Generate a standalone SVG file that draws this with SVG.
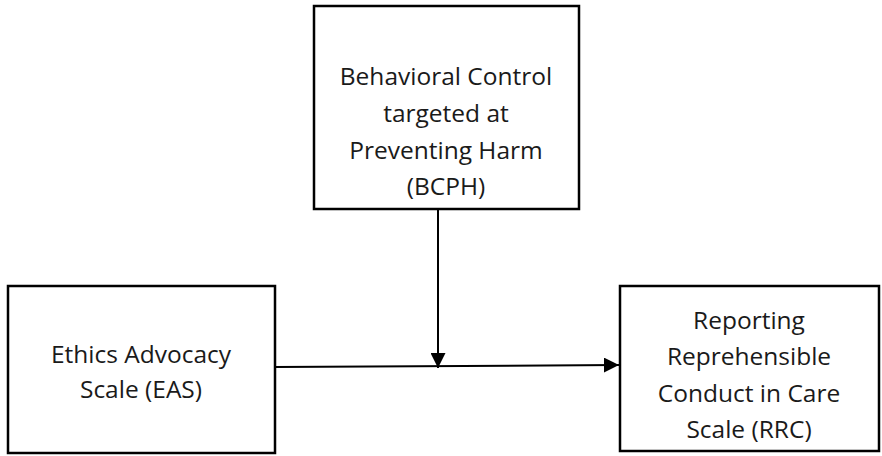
<svg xmlns="http://www.w3.org/2000/svg" width="882" height="456" viewBox="0 0 882 456">
<style>
.box{fill:#fff;stroke:#000;stroke-width:2.5}
.t{font-family:"Open Sans","Noto Sans",sans-serif;font-size:24.5px;fill:#1a1a1a;text-anchor:middle}
.c{stroke:#000;stroke-width:2;fill:none}
</style>
<defs>
<marker id="ah" viewBox="0 0 10 10" refX="10" refY="5" markerWidth="15" markerHeight="15" markerUnits="userSpaceOnUse" orient="auto">
<path d="M0,0 L10,5 L0,10 z" fill="#000"/>
</marker>
</defs>
<g id="bcph">
<rect class="box" x="314" y="6" width="265" height="203"/>
<text class="t" x="446" y="85">Behavioral Control</text>
<text class="t" x="446" y="122">targeted at</text>
<text class="t" x="446" y="159">Preventing Harm</text>
<text class="t" x="446" y="195">(BCPH)</text>
</g>
<g id="eas">
<rect class="box" x="8" y="286" width="267" height="167"/>
<text class="t" x="141" y="363">Ethics Advocacy</text>
<text class="t" x="141" y="398">Scale (EAS)</text>
</g>
<g id="rrc">
<rect class="box" x="620" y="286" width="259" height="165"/>
<text class="t" x="749" y="329">Reporting</text>
<text class="t" x="749" y="365">Reprehensible</text>
<text class="t" x="749" y="402">Conduct in Care</text>
<text class="t" x="749" y="438">Scale (RRC)</text>
</g>
<g id="connectors">
<line class="c" x1="275" y1="367" x2="619" y2="365" marker-end="url(#ah)"/>
<line class="c" x1="438" y1="209" x2="438" y2="368" marker-end="url(#ah)"/>
</g>
</svg>
